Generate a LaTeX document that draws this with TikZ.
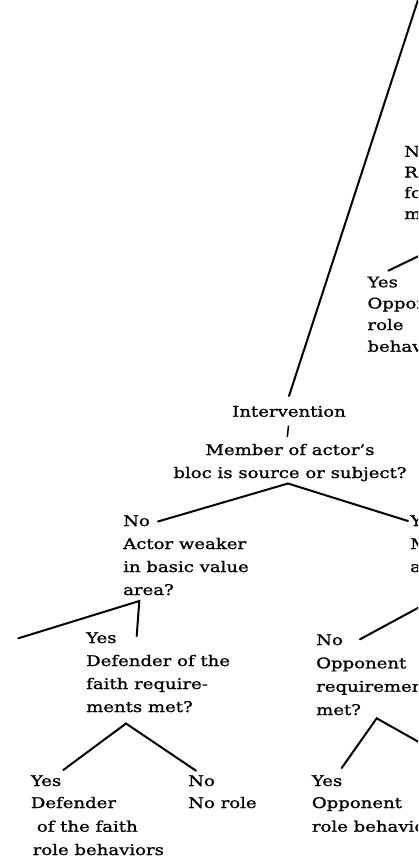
\documentclass[tikz,border=0pt]{standalone}
\usepackage{fontspec}
\setmainfont[FakeStretch=1.23,FakeBold=1.1]{DejaVu Serif}
\tikzset{
  lbl/.style={inner sep=0pt, anchor=base west, font=\fontsize{14.7}{18}\selectfont},
  lblmid/.style={lbl, anchor=base},
  branch/.style={line width=2pt, line cap=round},
}
\begin{document}
\begin{tikzpicture}[x=1pt,y=-1pt]
\useasboundingbox (0,0) rectangle (418,867);
\clip (0,0) rectangle (418,867);

% upper right branch of the tree
\node[lbl] (reqoppA) at (404,156.7) {No};
\node[lbl] (reqoppB) at (404,177.5) {Requirements};
\node[lbl] (reqoppC) at (404,198) {for opponent};
\node[lbl] (reqoppD) at (404,219) {met?};
\node[lbl] (oppA1) at (367.3,287.3) {Yes};
\node[lbl] (oppA2) at (367.3,308.5) {Opponent};
\node[lbl] (oppA3) at (367.3,330) {role};
\node[lbl] (oppA4) at (367.3,351.7) {behaviors};
\coordinate (reqoppApex) at (447,242.4);
\coordinate (oppAtop) at (388.3,270.7);
\draw[branch] (oppAtop) -- (reqoppApex);

% trunk down to the intervention node
\coordinate (rootEnd) at (424.5,-20);
\coordinate (trunkEnd) at (289,396);
\draw[branch] (rootEnd) -- (trunkEnd);
\node[lblmid] (interv) at (289,416.7) {Intervention};
\coordinate (tickTop) at (288.5,425.5);
\coordinate (tickBot) at (287.3,437);
\draw[line width=1.5pt] (tickTop) -- (tickBot);
\node[lblmid] (blocA) at (290,455) {Member of actor's};
\node[lblmid] (blocB) at (290,478) {bloc is source or subject?};

% split under the bloc question
\coordinate (blocApex) at (288,483.5);
\coordinate (blocNo) at (158,521.5);
\coordinate (blocYes) at (408,521);
\draw[branch] (blocNo) -- (blocApex) -- (blocYes);
\node[lbl] (weakerA) at (123,526) {No};
\node[lbl] (weakerB) at (123,549) {Actor weaker};
\node[lbl] (weakerC) at (123,572) {in basic value};
\node[lbl] (weakerD) at (123,595) {area?};
\node[lbl] (memberA) at (410,526) {Yes};
\node[lbl] (memberB) at (410,549) {Member weaker};
\node[lbl] (memberC) at (410,572) {area?};

% defender of the faith subtree
\coordinate (weakApex) at (139.3,601);
\coordinate (weakNo) at (18.3,638.3);
\coordinate (weakYes) at (136.7,636);
\draw[branch] (weakNo) -- (weakApex) -- (weakYes);
\node[lbl] (defreqA) at (86,643) {Yes};
\node[lbl] (defreqB) at (86,666) {Defender of the};
\node[lbl] (defreqC) at (86,689) {faith require-};
\node[lbl] (defreqD) at (86,712) {ments met?};
\coordinate (defApex) at (126,723.5);
\coordinate (defYes) at (63.3,770);
\coordinate (defNo) at (196,770.7);
\draw[branch] (defYes) -- (defApex) -- (defNo);
\node[lbl] (defA) at (30.7,786) {Yes};
\node[lbl] (defB) at (30.7,808) {Defender};
\node[lbl] (defC) at (36.7,831.7) {of the faith};
\node[lbl] (defD) at (32.5,855) {role behaviors};
\node[lbl] (noroleA) at (188,786) {No};
\node[lbl] (noroleB) at (188,808) {No role};

% opponent subtree
\coordinate (memberApex) at (440,596);
\coordinate (memberNo) at (360,639.3);
\draw[branch] (memberNo) -- (memberApex);
\node[lbl] (oppreqA) at (316,645) {No};
\node[lbl] (oppreqB) at (316,668.3) {Opponent};
\node[lbl] (oppreqC) at (316,691.7) {requirements};
\node[lbl] (oppreqD) at (316,715) {met?};
\coordinate (oppApex) at (376.7,718.3);
\coordinate (oppYes) at (341.7,768);
\coordinate (oppNo) at (465,768);
\draw[branch] (oppYes) -- (oppApex) -- (oppNo);
\node[lbl] (oppB1) at (311.7,786) {Yes};
\node[lbl] (oppB2) at (311.7,808) {Opponent};
\node[lbl] (oppB3) at (311.7,831.7) {role behaviors};
\end{tikzpicture}
\end{document}
